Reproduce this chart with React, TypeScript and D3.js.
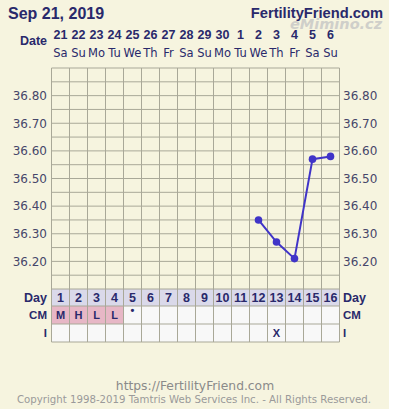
import React from "react";
import * as d3 from "d3";

const dates = ["21", "22", "23", "24", "25", "26", "27", "28", "29", "30", "1", "2", "3", "4", "5", "6"];
const weekdays = ["Sa", "Su", "Mo", "Tu", "We", "Th", "Fr", "Sa", "Su", "Mo", "Tu", "We", "Th", "Fr", "Sa", "Su"];
const cycleDays = [1, 2, 3, 4, 5, 6, 7, 8, 9, 10, 11, 12, 13, 14, 15, 16];
const temps: (number | null)[] = [null, null, null, null, null, null, null, null, null, null, null, 36.35, 36.27, 36.21, 36.57, 36.58];
const cervicalMucus = ["M", "H", "L", "L", "•", "", "", "", "", "", "", "", "", "", "", ""];
const intercourse = ["", "", "", "", "", "", "", "", "", "", "", "", "X", "", "", ""];
const yTicks = [36.2, 36.3, 36.4, 36.5, 36.6, 36.7, 36.8];
const yDomain = [36.1, 36.9];

const W = 400;
const H = 409;
const left = 51.5;
const right = 339.5;
const top = 68;
const bottom = 289;
const rowH = [17, 18, 18];

const NAVY = "#29296b";
const CREAM = "#f6f4df";
const GRID = "#a9a898";
const SANS = "'DejaVu Sans', Verdana, sans-serif";
const BOLD = "'Liberation Sans', Arial, sans-serif";

export default function App() {
  const x = d3.scaleBand<number>().domain(cycleDays).range([left, right]);
  const y = d3.scaleLinear().domain(yDomain).range([bottom, top]);
  const bw = x.bandwidth();
  const cx = (d: number) => (x(d) as number) + bw / 2;

  const hLines = d3.range(0, 17).map((i) => yDomain[0] + i * 0.05);
  const rowTops = [bottom, bottom + rowH[0], bottom + rowH[0] + rowH[1]];
  const tableBottom = rowTops[2] + rowH[2];

  const pts = cycleDays
    .map((d, i) => ({ d, t: temps[i] }))
    .filter((p) => p.t !== null) as { d: number; t: number }[];
  const line = d3
    .line<{ d: number; t: number }>()
    .x((p) => cx(p.d))
    .y((p) => y(p.t));

  return (
    <svg
      width={W}
      height={H}
      style={{ position: "absolute", left: 0, top: 0, display: "block" }}
    >
      <rect x={0} y={0} width={W} height={H} fill="#ffffff" />
      <rect x={0} y={0} width={389} height={H} fill={CREAM} />

      {/* header */}
      <text x={8} y={19} fontFamily={BOLD} fontWeight="bold" fontSize={16} fill={NAVY}>
        Sep 21, 2019
      </text>
      <text x={290} y={29} fontFamily={SANS} fontWeight="bold" fontStyle="italic" fontSize={14.5} fill="#cfcfca">
        eMimino.cz
      </text>
      <text x={383} y={18} textAnchor="end" fontFamily={BOLD} fontWeight="bold" fontSize={14.7} fill={NAVY}>
        FertilityFriend.com
      </text>
      <text x={47} y={45} textAnchor="end" fontFamily={BOLD} fontWeight="bold" fontSize={12.5} fill={NAVY}>
        Date
      </text>
      {cycleDays.map((d, i) => (
        <g key={"dt" + d}>
          <text x={cx(d)} y={39} textAnchor="middle" fontFamily={BOLD} fontWeight="bold" fontSize={12.5} fill={NAVY}>
            {dates[i]}
          </text>
          <text x={cx(d)} y={57} textAnchor="middle" fontFamily={SANS} fontSize={11.5} fill={NAVY}>
            {weekdays[i]}
          </text>
        </g>
      ))}

      {/* table cells */}
      {cycleDays.map((d, i) => (
        <g key={"cell" + d}>
          <rect x={x(d)} y={rowTops[0]} width={bw} height={rowH[0]} fill="#dad9ea" />
          <rect
            x={x(d)}
            y={rowTops[1]}
            width={bw}
            height={rowH[1]}
            fill={i < 4 ? "#e7b7c6" : "#f8f8f8"}
          />
          <rect x={x(d)} y={rowTops[2]} width={bw} height={rowH[2]} fill="#f8f8f8" />
        </g>
      ))}

      {/* grid */}
      {hLines.map((v, i) => (
        <line key={"h" + i} x1={left} x2={right} y1={y(v)} y2={y(v)} stroke={GRID} strokeWidth={1} />
      ))}
      {[...rowTops.slice(1), tableBottom].map((ry, i) => (
        <line key={"rt" + i} x1={left} x2={right} y1={ry} y2={ry} stroke={GRID} strokeWidth={1} />
      ))}
      {[...cycleDays.map((d) => x(d) as number), right].map((vx, i) => (
        <line key={"v" + i} x1={vx} x2={vx} y1={top} y2={tableBottom} stroke={GRID} strokeWidth={1} />
      ))}

      {/* y axis labels */}
      {yTicks.map((t) => (
        <g key={"yt" + t}>
          <text x={47} y={y(t)} dy="0.36em" textAnchor="end" fontFamily={SANS} fontSize={12} fill="#46466a">
            {t.toFixed(2)}
          </text>
          <text x={343} y={y(t)} dy="0.36em" fontFamily={SANS} fontSize={12} fill="#46466a">
            {t.toFixed(2)}
          </text>
        </g>
      ))}

      {/* temperature line */}
      <path d={line(pts) || ""} fill="none" stroke="#4034c8" strokeWidth={2} />
      {pts.map((p) => (
        <circle key={"c" + p.d} cx={cx(p.d)} cy={y(p.t)} r={3.8} fill="#4034c8" />
      ))}

      {/* table text */}
      {["Day", "CM", "I"].map((lbl, r) => (
        <g key={"lbl" + lbl}>
          <text x={47} y={rowTops[r] + rowH[r] / 2} dy="0.36em" textAnchor="end" fontFamily={BOLD} fontWeight="bold" fontSize={r === 0 ? 12.5 : 11.5} fill={NAVY}>
            {lbl}
          </text>
          <text x={343} y={rowTops[r] + rowH[r] / 2} dy="0.36em" fontFamily={BOLD} fontWeight="bold" fontSize={r === 0 ? 12.5 : 11.5} fill={NAVY}>
            {lbl}
          </text>
        </g>
      ))}
      {cycleDays.map((d, i) => (
        <g key={"tt" + d}>
          <text x={cx(d)} y={rowTops[0] + rowH[0] / 2} dy="0.37em" textAnchor="middle" fontFamily={BOLD} fontWeight="bold" fontSize={12.5} fill={NAVY}>
            {d}
          </text>
          <text x={cx(d)} y={rowTops[1] + rowH[1] / 2} dy={cervicalMucus[i] === "•" ? "-0.05em" : "0.36em"} textAnchor="middle" fontFamily={BOLD} fontWeight="bold" fontSize={11} fill={NAVY}>
            {cervicalMucus[i]}
          </text>
          <text x={cx(d)} y={rowTops[2] + rowH[2] / 2} dy="0.36em" textAnchor="middle" fontFamily={BOLD} fontWeight="bold" fontSize={11} fill={NAVY}>
            {intercourse[i]}
          </text>
        </g>
      ))}

      {/* footer */}
      <text x={195} y={390} textAnchor="middle" fontFamily={SANS} fontSize={12.3} fill="#8a8a8a">
        https://FertilityFriend.com
      </text>
      <text x={194} y={403} textAnchor="middle" fontFamily={SANS} fontSize={10.2} fill="#9a9a9a">
        Copyright 1998-2019 Tamtris Web Services Inc. - All Rights Reserved.
      </text>
    </svg>
  );
}
